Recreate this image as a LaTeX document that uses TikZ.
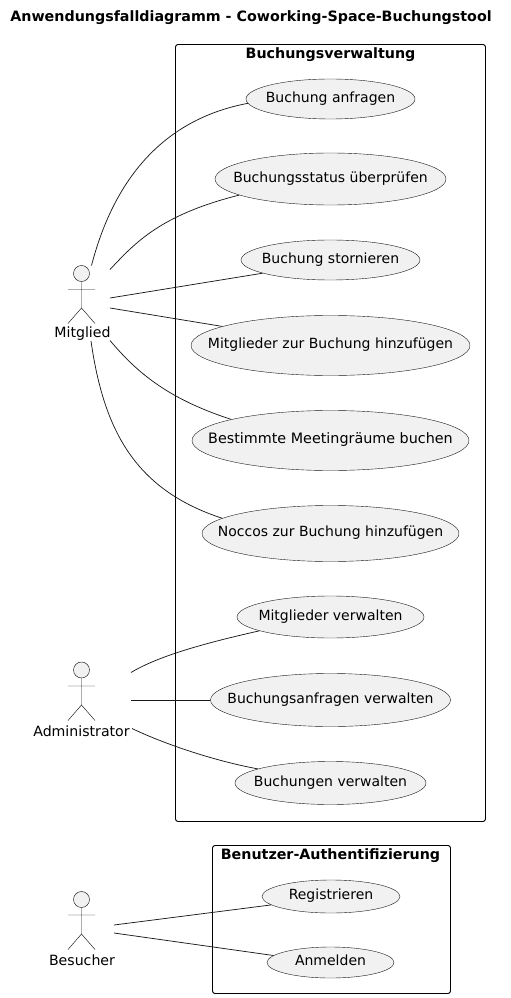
\documentclass[tikz,border=0pt]{standalone}
\usepackage{fontspec}
\setmainfont{DejaVu Sans}
\usetikzlibrary{shapes.geometric}
\definecolor{ucfill}{HTML}{F1F1F1}
\definecolor{ucline}{HTML}{181818}
\newcommand{\pxu}{0.75pt}
\tikzset{
  usecase/.style={ellipse,draw=ucline,fill=ucfill,line width=0.3pt,inner xsep=-20pt,inner ysep=-5pt,font=\fontsize{10.5}{12}\selectfont,text height=8pt,text depth=3pt},
  sysbox/.style={draw=black,line width=0.7pt,rounded corners=1.9pt},
  systitle/.style={font=\fontsize{10.7}{12}\selectfont\bfseries,inner sep=0pt},
  actorhead/.style={circle,draw=ucline,fill=ucfill,line width=0.35pt,inner sep=0pt,minimum size=16*\pxu},
  actorline/.style={draw=ucline,line width=0.35pt},
  actorname/.style={font=\fontsize{10.6}{12}\selectfont,inner sep=0pt},
  link/.style={draw=ucline,line width=0.55pt}
}
\begin{document}
\begin{tikzpicture}[x=0.75pt,y=-0.75pt]
\useasboundingbox (0,0) rectangle (510,998);

\node [systitle] (title) at (251,18) {Anwendungsfalldiagramm - Coworking-Space-Buchungstool};

%-------------- Buchungsverwaltung --------------------
\draw [sysbox] (175.5,44.5) rectangle (485.5,821.5);
\node [systitle] (BV) at (330.5,55) {Buchungsverwaltung};

\node [usecase,minimum width=169*\pxu,minimum height=40*\pxu] (UC1) at (330.5,99) {Buchung anfragen};
\node [usecase,minimum width=231*\pxu,minimum height=52*\pxu] (UC2) at (330.5,179) {Buchungsstatus überprüfen};
\node [usecase,minimum width=179*\pxu,minimum height=40*\pxu] (UC3) at (330.5,260) {Buchung stornieren};
\node [usecase,minimum width=279*\pxu,minimum height=60*\pxu] (UC4) at (330.5,345.5) {Mitglieder zur Buchung hinzufügen};
\node [usecase,minimum width=277*\pxu,minimum height=60*\pxu,font=\fontsize{10.75}{12}\selectfont] (UC5) at (330.5,440.5) {Bestimmte Meetingräume buchen};
\node [usecase,minimum width=257*\pxu,minimum height=56*\pxu] (UC6) at (330.5,533.5) {Noccos zur Buchung hinzufügen};
\node [usecase,minimum width=187*\pxu,minimum height=42*\pxu] (UC7) at (330.5,617) {Mitglieder verwalten};
\node [usecase,minimum width=240*\pxu,minimum height=53*\pxu] (UC8) at (330.5,700) {Buchungsanfragen verwalten};
\node [usecase,minimum width=191*\pxu,minimum height=43*\pxu] (UC9) at (330.5,783) {Buchungen verwalten};

%--------------- Benutzer-Authentifizierung ----------------------
\draw [sysbox] (212.5,845.5) rectangle (450.5,993.5);
\node [systitle] (BA) at (330.5,856) {Benutzer-Authentifizierung};

\node [usecase,minimum width=138*\pxu,minimum height=33*\pxu] (UC10) at (331,896.5) {Registrieren};
\node [usecase,minimum width=127*\pxu,minimum height=31*\pxu] (UC11) at (330.5,962.5) {Anmelden};

%--------------- Mitglied ----------------------
\node [actorhead] (MH) at (81.5,273.5) {};
\draw [actorline]
(MH.south) -- (81.5,308)
(68,289.5) -- (95,289.5)
(68,323.5) -- (81.5,308) -- (95,323.5);
\node [actorname] (M) at (82.5,334) {Mitglied};

\coordinate (M1) at (91.5,265.5);
\coordinate (M2) at (110,269.5);
\coordinate (M3) at (110,298);
\coordinate (M4) at (110,308);
\coordinate (M5) at (110,340.5);
\coordinate (M6) at (91,341);

\draw [link] (M1) .. controls (113,183) and (160,120) .. (UC1.183);
\draw [link] (M2) .. controls (135,243) and (160,215) .. (UC2.190);
\draw [link] (M3) -- (UC3.191);
\draw [link] (M4) -- (UC4.170);
\draw [link] (M5) .. controls (135,370) and (165,398) .. (UC5.168);
\draw [link] (M6) .. controls (104,432) and (136,490) .. (UC6.172);

%--------------- Administrator ----------------------
\node [actorhead] (AH) at (81.5,670) {};
\draw [actorline]
(AH.south) -- (81.5,705)
(68,686) -- (95,686)
(68,720.5) -- (81.5,705) -- (95,720.5);
\node [actorname] (A) at (81.5,731) {Administrator};

\coordinate (A1) at (131,672.5);
\coordinate (A2) at (131,700);
\coordinate (A3) at (132,728.5);

\draw [link] (A1) .. controls (160,655) and (210,642) .. (UC7.191);
\draw [link] (A2) -- (UC8.180);
\draw [link] (A3) .. controls (160,742) and (210,760) .. (UC9.169);

%--------------- Besucher ----------------------
\node [actorhead] (BH) at (81.5,899.5) {};
\draw [actorline]
(BH.south) -- (81.5,934)
(68,915) -- (95,915)
(68,949.5) -- (81.5,934) -- (95,949.5);
\node [actorname] (B) at (82,960) {Besucher};

\coordinate (B1) at (114,925);
\coordinate (B2) at (114,933);

\draw [link] (B1) -- (UC10.188);
\draw [link] (B2) -- (UC11.173);

\end{tikzpicture}
\end{document}
